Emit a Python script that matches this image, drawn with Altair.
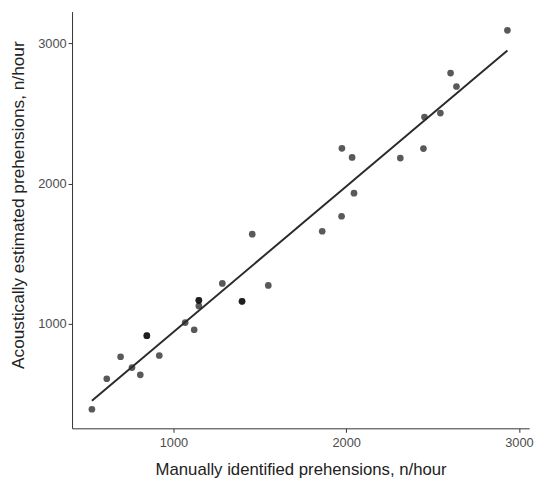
import altair as alt
import pandas as pd

manual = [528, 614, 694, 760, 808, 846, 846, 918, 1068, 1120, 1147, 1147, 1147,
          1283, 1397, 1397, 1456, 1549, 1861, 1973, 1975, 2034, 2045, 2313,
          2447, 2453, 2545, 2604, 2638, 2933]
acoustic = [392, 609, 766, 689, 637, 916, 916, 775, 1009, 958, 1168, 1168, 1128,
            1288, 1161, 1161, 1639, 1274, 1660, 1767, 2251, 2186, 1931, 2181,
            2249, 2474, 2502, 2787, 2691, 3091]

df = pd.DataFrame({"manual": manual, "acoustic": acoustic})

FONT = "Liberation Sans"

x = alt.X("manual:Q",
          scale=alt.Scale(domain=[413, 3059], nice=False, zero=False),
          axis=alt.Axis(values=[1000, 2000, 3000], format="d",
                        title="Manually identified prehensions, n/hour",
                        titleFontSize=17, titleFontWeight="normal", titleColor="#222222",
                        titleBaseline="alphabetic", titleY=47, titleX=232,
                        labelFontSize=13, labelColor="#4d4d4d", labelPadding=4,
                        tickSize=4, tickColor="#333333", domainColor="#333333",
                        grid=False, labelFont=FONT, titleFont=FONT))
y = alt.Y("acoustic:Q",
          scale=alt.Scale(domain=[256, 3225], nice=False, zero=False),
          axis=alt.Axis(values=[1000, 2000, 3000], format="d",
                        title="Acoustically estimated prehensions, n/hour",
                        titleFontSize=17.5, titleFontWeight="normal", titleColor="#222222",
                        titleAngle=-90, titleBaseline="alphabetic", titleAlign="center",
                        titleX=-49, titleY=196,
                        labelFontSize=13, labelColor="#4d4d4d", labelPadding=2,
                        tickSize=4, tickColor="#333333", domainColor="#333333",
                        grid=False, labelFont=FONT, titleFont=FONT))

points = alt.Chart(df).mark_circle(size=46, color="#000000", opacity=0.65).encode(x=x, y=y)

line = alt.Chart(df).transform_regression("manual", "acoustic").mark_line(
    color="#2b2b2b", strokeWidth=2).encode(x=x, y=y)

chart = (points + line).properties(
    width=464, height=423,
    autosize=alt.AutoSizeParams(type="none"),
    padding={"left": 65, "top": 0, "right": 13, "bottom": 60},
).configure(background="white").configure_view(stroke=None)

chart.save("out.html", embed_options={"renderer": "svg", "actions": False})
